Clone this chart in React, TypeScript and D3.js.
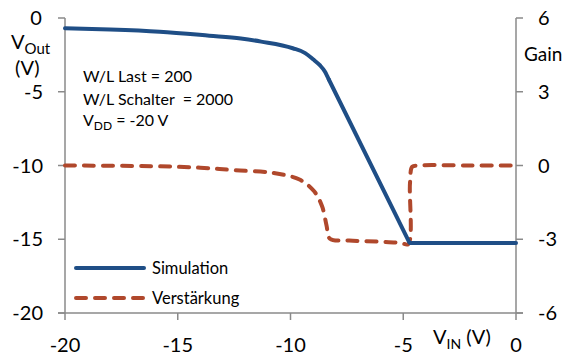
import React from "react";
import * as d3 from "d3";

const xTicks = [-20, -15, -10, -5, 0];
const yLeftTicks = [0, -5, -10, -15, -20];
const yRightTicks = [6, 3, 0, -3, -6];

// curved part of the simulation (smooth)
const simCurveX = [-20, -18, -15.8, -13.6, -12.2, -11.3, -9.9, -9.35, -9.0, -8.7, -8.47, -8.3];
const simCurveY = [-0.7, -0.78, -0.93, -1.2, -1.39, -1.6, -2.05, -2.38, -2.8, -3.2, -3.64, -4.17];
// straight part of the simulation
const simLinX = [-8.3, -4.72, -4.5, 0];
const simLinY = [-4.17, -15.25, -15.25, -15.25];

const gainX = [-20, -16, -14, -12.5, -10.8, -9.6, -8.95, -8.6, -8.4, -8.25, -7.4, -6, -5.1, -4.78, -4.7, -4.6, -4.35, -2, 0];
const gainY = [0, -0.03, -0.09, -0.19, -0.3, -0.57, -1.05, -1.66, -2.45, -2.98, -3.05, -3.1, -3.15, -3.2, -0.7, -0.05, 0, 0, 0];

const FONT = "Lato, 'Open Sans', sans-serif";
const AXIS = "#8a8a8a";
const BLUE = "#1f4e86";
const RED = "#b0482c";

export default function App() {
  const left = 65, right = 516, top = 18, bottom = 313;
  const x = d3.scaleLinear().domain([-20, 0]).range([left, right]);
  const yL = d3.scaleLinear().domain([-20, 0]).range([bottom, top]);
  const yR = d3.scaleLinear().domain([-6, 6]).range([bottom, top]);

  const simCurve = d3
    .line<number>()
    .x((_, i) => x(simCurveX[i]))
    .y((d) => yL(d))
    .curve(d3.curveMonotoneX)(simCurveY) as string;
  const simLin = d3
    .line<number>()
    .x((_, i) => x(simLinX[i]))
    .y((d) => yL(d))(simLinY) as string;
  const gainLine = d3
    .line<number>()
    .x((_, i) => x(gainX[i]))
    .y((d) => yR(d))
    .curve(d3.curveCatmullRom.alpha(0.5))(gainY) as string;

  return (
    <svg
      width={569}
      height={358}
      style={{ position: "absolute", left: 0, top: 0, background: "#fff" }}
      fontFamily={FONT}
    >
      <rect width={569} height={358} fill="#fff" />
      {/* axes */}
      <line x1={left} x2={left} y1={top} y2={bottom} stroke={AXIS} strokeWidth={1.5} />
      <line x1={right} x2={right} y1={top} y2={bottom} stroke={AXIS} strokeWidth={1.5} />
      <line x1={left - 7} x2={right + 7} y1={bottom} y2={bottom} stroke={AXIS} strokeWidth={1.5} />
      {yLeftTicks.map((t) => (
        <g key={"l" + t}>
          <line x1={left - 7} x2={left} y1={yL(t)} y2={yL(t)} stroke={AXIS} strokeWidth={1.5} />
          <text
            x={t === 0 ? 36 : 43}
            y={yL(t)}
            dy="0.35em"
            textAnchor={t === 0 ? "middle" : "end"}
            fontSize={20}
            fill="#000"
          >
            {String(t)}
          </text>
        </g>
      ))}
      {yRightTicks.map((t) => (
        <g key={"r" + t}>
          <line x1={right} x2={right + 7} y1={yR(t)} y2={yR(t)} stroke={AXIS} strokeWidth={1.5} />
          <text x={538} y={yR(t)} dy="0.35em" textAnchor="start" fontSize={20} fill="#000">
            {String(t)}
          </text>
        </g>
      ))}
      {xTicks.map((t) => (
        <g key={"x" + t}>
          <line x1={x(t)} x2={x(t)} y1={bottom} y2={bottom + 7} stroke={AXIS} strokeWidth={1.5} />
          <text x={x(t)} y={345} dy="0.35em" textAnchor="middle" fontSize={20} fill="#000">
            {String(t)}
          </text>
        </g>
      ))}
      {/* axis titles */}
      <text x={11} y={49} fontSize={20} fill="#000">
        V<tspan fontSize={15} dy={5}>Out</tspan>
      </text>
      <text x={15} y={75} fontSize={20} fill="#000">
        (V)
      </text>
      <text x={524} y={61} fontSize={19} fill="#000">
        Gain
      </text>
      <text x={433} y={344} fontSize={20} fill="#000">
        V<tspan fontSize={14} dy={5}>IN</tspan>
        <tspan dy={-5}> (V)</tspan>
      </text>
      {/* annotations */}
      <g fontSize={16} fill="#000">
        <text x={83} y={82}>W/L Last = 200</text>
        <text x={83} y={105} style={{ whiteSpace: "pre" }}>
          W/L Schalter  = 2000
        </text>
        <text x={83} y={126}>
          V<tspan fontSize={12} dy={4}>DD</tspan>
          <tspan dy={-4}> = -20 V</tspan>
        </text>
      </g>
      {/* series */}
      <path d={gainLine} fill="none" stroke={RED} strokeWidth={4} strokeDasharray="10 9" strokeLinecap="round" />
      <path d={simCurve} fill="none" stroke={BLUE} strokeWidth={4} strokeLinejoin="round" strokeLinecap="round" />
      <path d={simLin} fill="none" stroke={BLUE} strokeWidth={4} strokeLinejoin="round" strokeLinecap="round" />
      {/* legend */}
      <line x1={76} x2={144} y1={268} y2={268} stroke={BLUE} strokeWidth={4} strokeLinecap="round" />
      <text x={152} y={268} dy="0.35em" fontSize={16.5} fill="#000">
        Simulation
      </text>
      <line x1={76} x2={144} y1={298} y2={298} stroke={RED} strokeWidth={4} strokeDasharray="10 9" strokeLinecap="round" />
      <text x={152} y={298} dy="0.35em" fontSize={16.5} fill="#000">
        Verstärkung
      </text>
    </svg>
  );
}
